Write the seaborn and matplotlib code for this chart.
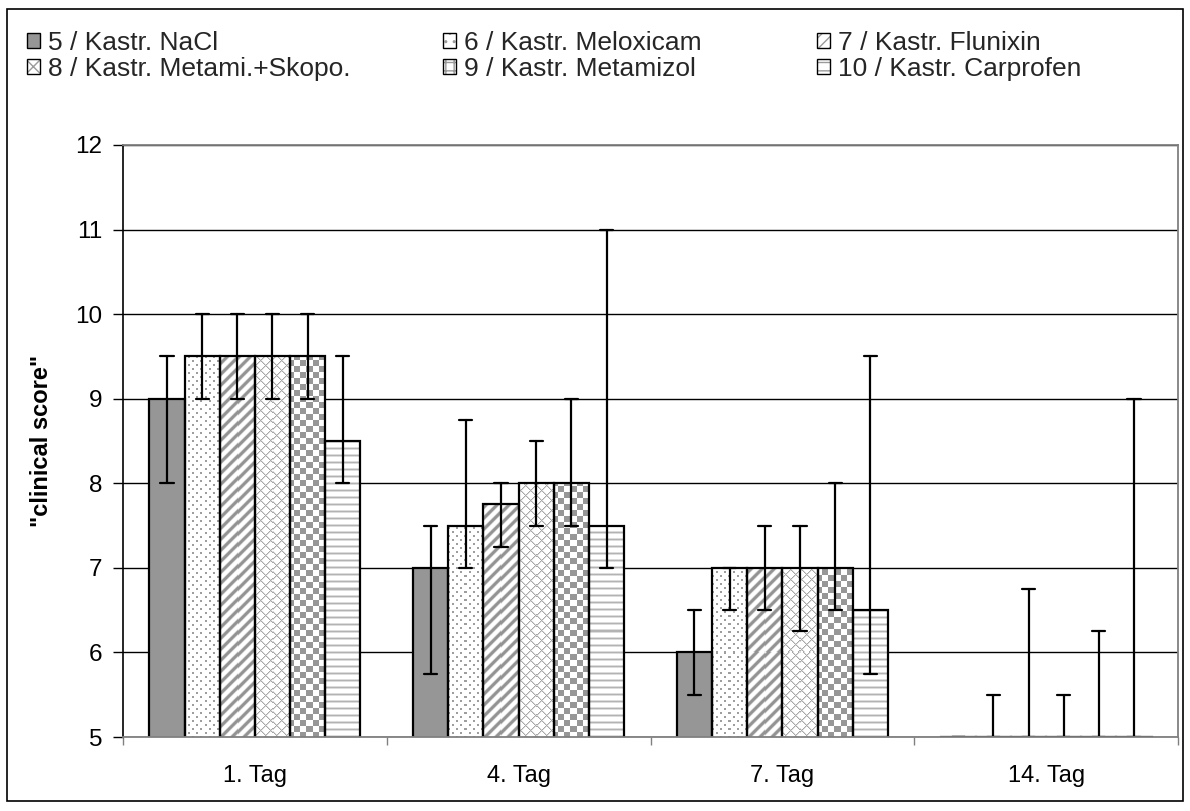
import numpy as np
import pandas as pd
import matplotlib
matplotlib.use("Agg")
import matplotlib.pyplot as plt
from matplotlib.patches import Patch, Rectangle
from matplotlib.ticker import FixedLocator, NullFormatter
import seaborn as sns

# ---- data -------------------------------------------------------------
days = ["1. Tag", "4. Tag", "7. Tag", "14. Tag"]
groups = ["5 / Kastr. NaCl", "6 / Kastr. Meloxicam", "7 / Kastr. Flunixin",
          "8 / Kastr. Metami.+Skopo.", "9 / Kastr. Metamizol", "10 / Kastr. Carprofen"]

# median score per day, with lower / upper end of the whisker
nacl_med = [9.0, 7.0, 6.0, 5.0]
nacl_lo = [8.0, 5.75, 5.5, 5.0]
nacl_hi = [9.5, 7.5, 6.5, 5.0]

melox_med = [9.5, 7.5, 7.0, 5.0]
melox_lo = [9.0, 7.0, 6.5, 5.0]
melox_hi = [10.0, 8.75, 7.0, 5.5]

flun_med = [9.5, 7.75, 7.0, 5.0]
flun_lo = [9.0, 7.25, 6.5, 5.0]
flun_hi = [10.0, 8.0, 7.5, 6.75]

metsko_med = [9.5, 8.0, 7.0, 5.0]
metsko_lo = [9.0, 7.5, 6.25, 5.0]
metsko_hi = [10.0, 8.5, 7.5, 5.5]

metam_med = [9.5, 8.0, 7.0, 5.0]
metam_lo = [9.0, 7.5, 6.5, 5.0]
metam_hi = [10.0, 9.0, 8.0, 6.25]

carp_med = [8.5, 7.5, 6.5, 5.0]
carp_lo = [8.0, 7.0, 5.75, 5.0]
carp_hi = [9.5, 11.0, 9.5, 9.0]

yticks = [5, 6, 7, 8, 9, 10, 11, 12]
ylabel = '"clinical score"'

series = [
    (nacl_med, nacl_lo, nacl_hi),
    (melox_med, melox_lo, melox_hi),
    (flun_med, flun_lo, flun_hi),
    (metsko_med, metsko_lo, metsko_hi),
    (metam_med, metam_lo, metam_hi),
    (carp_med, carp_lo, carp_hi),
]

# long-form table: lower, median and upper value per bar; the bar shows the
# median of the three, the whisker spans min..max
rows = []
for g, (med, lo, hi) in zip(groups, series):
    for d, m, l, h in zip(days, med, lo, hi):
        for v in (l, m, h):
            rows.append({"Tag": d, "Gruppe": g, "score": v})
df = pd.DataFrame(rows)

# ---- style ------------------------------------------------------------
sns.set_theme(style="white")
plt.rcParams["font.family"] = ["Liberation Sans", "DejaVu Sans"]
plt.rcParams["hatch.linewidth"] = 1.0

W, H, DPI = 1190, 811, 100
fig = plt.figure(figsize=(W / DPI, H / DPI), dpi=DPI)
fig.patch.set_facecolor("white")
ax = fig.add_axes([123 / W, 1 - 737 / H, (1178 - 123) / W, (737 - 145) / H])

GRAY = "#969696"
palette = {g: (GRAY if i == 0 else "white") for i, g in enumerate(groups)}

sns.barplot(data=df, x="Tag", y="score", hue="Gruppe", order=days, hue_order=groups,
            estimator="median", errorbar=lambda v: (np.min(v), np.max(v)),
            palette=palette, saturation=1, edgecolor="black", linewidth=1.6,
            width=0.8, capsize=0.3, err_kws={"color": "black", "linewidth": 1.6},
            legend=False, ax=ax)

ax.set_xlim(-0.5, 3.5)
ax.set_ylim(5, 12)


# ---- fill textures (pixel based, y grows downward) ----------------------
def tex_dots(X, Y):
    a = np.ones(X.shape)
    m1 = (X % 8 < 2) & (Y % 8 < 2)
    m2 = ((X - 4) % 8 < 2) & ((Y - 4) % 8 < 2)
    a[m1 | m2] = 0.62
    return a


def tex_diag(X, Y):
    t = ((X + Y) % 11) / 11.0
    c = 0.5 + 0.5 * np.cos(2 * np.pi * t)
    return 1 - 0.42 * np.clip(1.9 * c - 0.65, 0, 1)


def tex_cross(X, Y):
    a = np.ones(X.shape)
    m = ((X + Y) % 10 == 0) | ((X - Y) % 10 == 0)
    n = ((X + Y) % 10 == 1) | ((X - Y) % 10 == 1)
    a[n] = 0.86
    a[m] = 0.66
    return a


def tex_checker(X, Y):
    a = np.ones(X.shape)
    a[((X // 6) + (Y // 6)) % 2 == 0] = 0.59
    return a


def tex_hlines(X, Y):
    r = Y % 7
    a = np.ones(X.shape)
    a[r == 0] = 0.86
    a[r == 1] = 0.7
    a[r == 2] = 0.86
    return a


textures = [None, tex_dots, tex_diag, tex_cross, tex_checker, tex_hlines]

for gi, cont in enumerate(ax.containers[:len(groups)]):
    tex = textures[gi]
    for bar in cont.patches:
        bar.set_zorder(1.5)
        if tex is None:
            continue
        bar.set_facecolor("none")
        x0 = bar.get_x()
        x1 = x0 + bar.get_width()
        y1 = bar.get_y() + bar.get_height()
        y0 = 5.0
        if y1 <= y0:
            continue
        p0 = ax.transData.transform((x0, y0))
        p1 = ax.transData.transform((x1, y1))
        w = max(1, int(round(p1[0] - p0[0])))
        h = max(1, int(round(p1[1] - p0[1])))
        xs = np.arange(w) + int(round(p0[0]))
        ys = np.arange(h) + int(round(H - p1[1]))
        X, Y = np.meshgrid(xs, ys)
        ax.imshow(tex(X, Y), cmap="gray", vmin=0, vmax=1, extent=(x0, x1, y0, y1),
                  origin="upper", interpolation="nearest", aspect="auto", zorder=1)

ax.set_xlim(-0.5, 3.5)
ax.set_ylim(5, 12)

# ---- axes decoration --------------------------------------------------
ax.set_yticks(yticks)
ax.set_yticklabels([str(t) for t in yticks])
ax.yaxis.grid(True, color="black", linewidth=1.0)
ax.xaxis.grid(False)
ax.set_axisbelow(True)

ax.tick_params(axis="y", which="major", left=True, length=7, width=1, color="black",
               pad=8, labelsize=17.5, labelcolor="black")
ax.tick_params(axis="x", which="major", bottom=True, length=0, pad=20,
               labelsize=17, labelcolor="black")
ax.xaxis.set_minor_locator(FixedLocator([-0.5, 0.5, 1.5, 2.5, 3.5]))
ax.xaxis.set_minor_formatter(NullFormatter())
ax.tick_params(axis="x", which="minor", bottom=True, length=6, width=1, color="#808080")

ax.set_xlabel("")
ax.set_ylabel(ylabel, fontsize=17, fontweight="bold", color="black")
ax.yaxis.set_label_coords(-0.066, 0.5)

for side in ("top", "right", "bottom"):
    ax.spines[side].set_color("#808080")
    ax.spines[side].set_linewidth(1.3)
ax.spines["left"].set_color("black")
ax.spines["left"].set_linewidth(1.2)

# ---- legend -----------------------------------------------------------
legend_hatch = [None, "..", "///", "xx", "++", "--"]
legend_x = [27, 443, 817]
legend_y = [43, 69]
for i, g in enumerate(groups):
    if i == 0:
        h = Patch(facecolor=GRAY, edgecolor="black", linewidth=1.0)
    else:
        h = (Patch(facecolor="white", edgecolor="#9a9a9a", hatch=legend_hatch[i], linewidth=0),
             Patch(facecolor="none", edgecolor="black", linewidth=1.0))
    r, c = divmod(i, 3)
    fig.legend(handles=[h], labels=[g], loc="center left",
               bbox_to_anchor=(legend_x[c] / W, 1 - legend_y[r] / H),
               frameon=False, borderpad=0, borderaxespad=0, handlelength=0.5,
               handleheight=0.5, handletextpad=0.3, fontsize=19)

# outer frame
fig.patches.append(Rectangle((7 / W, 1 - 801 / H), (1183 - 7) / W, (801 - 9) / H,
                             transform=fig.transFigure, fill=False,
                             edgecolor="black", linewidth=1.2))

fig.savefig("out.png", dpi=DPI, facecolor="white")
